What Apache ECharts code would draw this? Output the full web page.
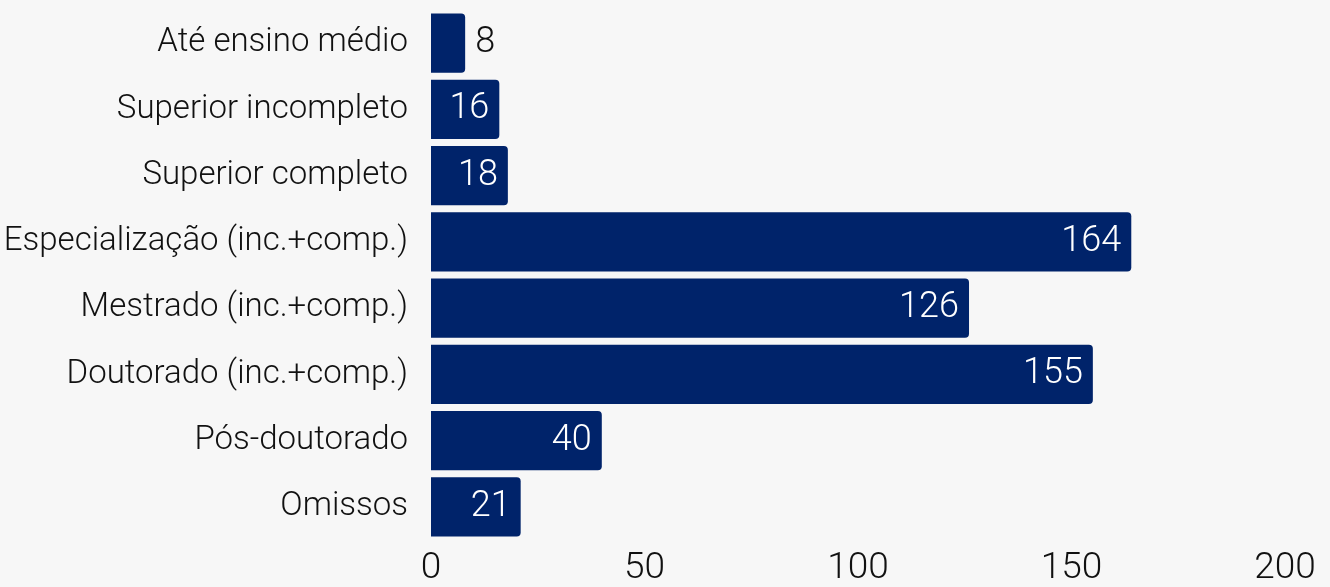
<!DOCTYPE html>
<html><head><meta charset="utf-8">
<script src="https://cdn.jsdelivr.net/npm/echarts@6/dist/echarts.min.js"></script>
<style>html,body{margin:0;padding:0;background:#f7f7f7}#c{width:1330px;height:587px}</style>
</head><body><div id="c"></div>
<script>
const categories = ["Até ensino médio","Superior incompleto","Superior completo","Especialização (inc.+comp.)","Mestrado (inc.+comp.)","Doutorado (inc.+comp.)","Pós-doutorado","Omissos"];
const values = [8,16,18,164,126,155,40,21];
const xTicks = [0,50,100,150,200];
const FONT = "Roboto";
const chart = echarts.init(document.getElementById('c'), null, {renderer:'canvas'});
chart.setOption({
  backgroundColor:'#f7f7f7',
  animation:false,
  grid:{left:431,right:45,top:10,bottom:41,containLabel:false},
  xAxis:{type:'value',min:xTicks[0],max:xTicks[xTicks.length-1],interval:50,
    axisLine:{show:false},axisTick:{show:false},splitLine:{show:false},
    axisLabel:{margin:10,fontFamily:FONT,fontSize:37,color:'#111',fontWeight:300}},
  yAxis:{type:'category',data:categories,inverse:true,
    axisLine:{show:false},axisTick:{show:false},
    axisLabel:{margin:23,fontFamily:FONT,fontSize:33,color:'#111',fontWeight:300}},
  series:[{type:'bar',barCategoryGap:'10.5%',
    data:values.map(v=>{
      const d={value:v};
      if(v<12){d.label={position:'right',color:'#111',distance:10};}
      return d;}),
    itemStyle:{color:'#00236a',borderRadius:[0,4,4,0]},
    label:{show:true,position:'insideRight',distance:10,color:'#fff',fontFamily:FONT,fontSize:36,fontWeight:300}
  }]
});
</script></body></html>
